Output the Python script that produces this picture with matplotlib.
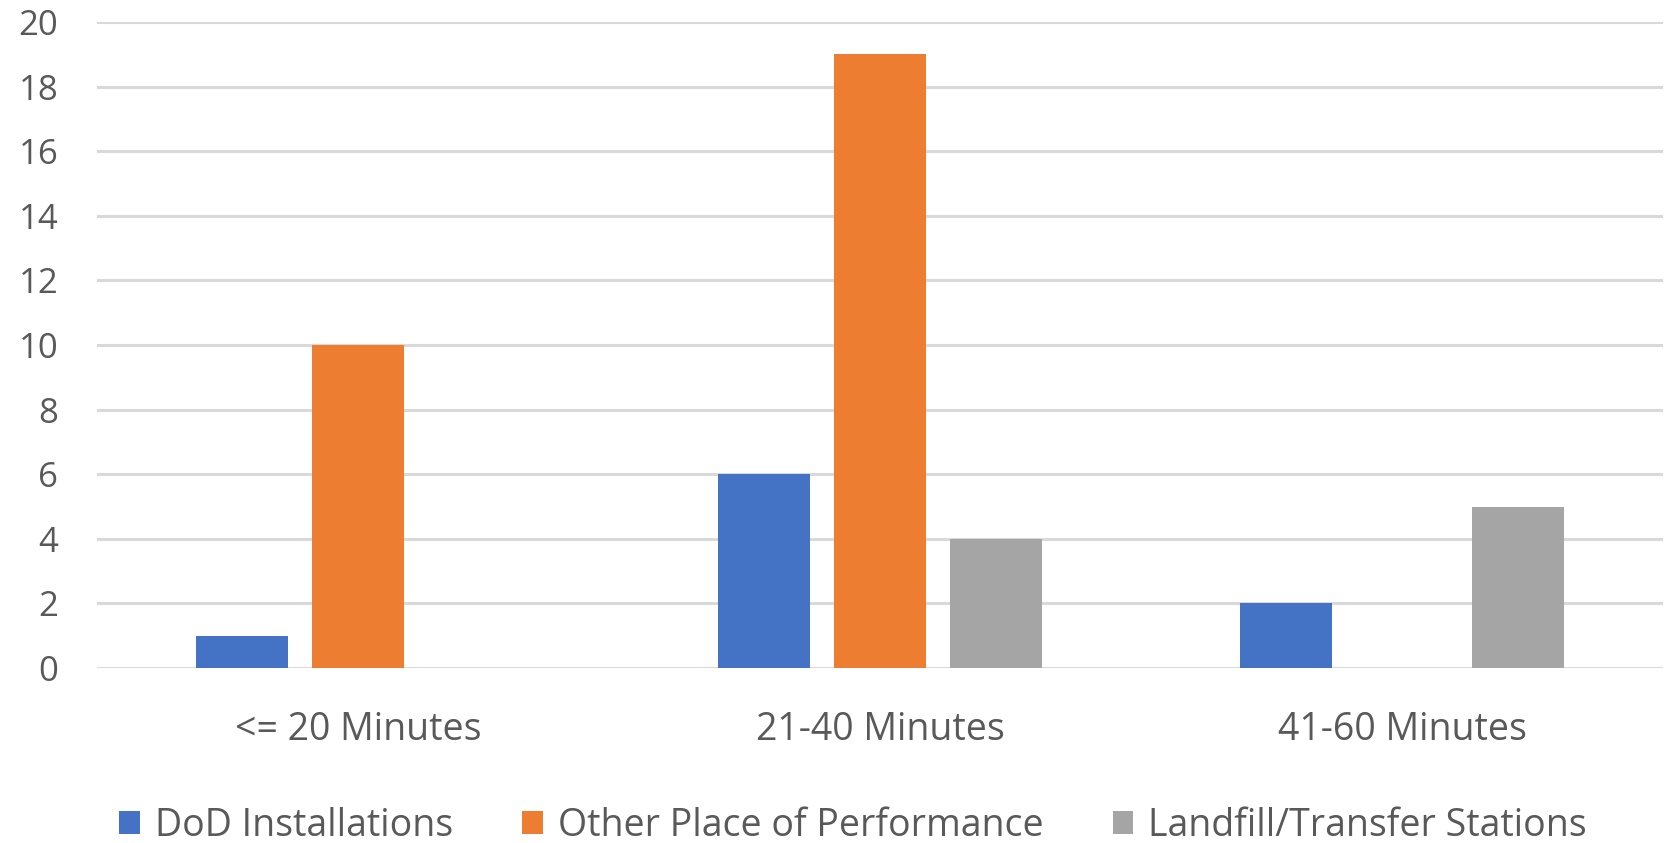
import matplotlib
matplotlib.use("Agg")
import matplotlib.pyplot as plt
import numpy as np

# data
categories = ["<= 20 Minutes", "21-40 Minutes", "41-60 Minutes"]
series_names = ["DoD Installations", "Other Place of Performance", "Landfill/Transfer Stations"]
dod = [1, 6, 2]
other = [10, 19, 0]
landfill = [0, 4, 5]
y_ticks = [0, 2, 4, 6, 8, 10, 12, 14, 16, 18, 20]

colors = ["#4472C4", "#ED7D31", "#A5A5A5"]
text_color = "#595959"
grid_color = "#D9D9D9"

plt.rcParams["font.family"] = ["Open Sans", "DejaVu Sans"]

fig = plt.figure(figsize=(16.69, 8.43), dpi=100)
ax = fig.add_axes([97 / 1669, 1 - 668 / 843, (1663 - 97) / 1669, (668 - 22) / 843])

x = np.arange(len(categories))
width = 0.176
step = 0.222
for k, (vals, name, col) in enumerate(zip([dod, other, landfill], series_names, colors)):
    ax.bar(x + (k - 1) * step, vals, width=width, color=col, label=name, zorder=3)

ax.set_xlim(-0.5, len(categories) - 0.5)
ax.set_ylim(0, 20)
ax.set_yticks(y_ticks)
ax.set_xticks(x)
ax.set_xticklabels(categories)
ax.yaxis.grid(True, color=grid_color, linewidth=2.2, zorder=0)
ax.set_axisbelow(True)
for side in ["top", "right", "left", "bottom"]:
    ax.spines[side].set_visible(False)
ax.tick_params(axis="y", length=0, labelsize=25, labelcolor=text_color, pad=28)
ax.tick_params(axis="x", length=0, labelsize=27, labelcolor=text_color, pad=31)

handles, labels = ax.get_legend_handles_labels()
fig.legend(handles, labels, loc="center", bbox_to_anchor=(853 / 1669, 1 - 826 / 843),
           ncol=3, frameon=False, fontsize=27, labelcolor=text_color,
           handlelength=0.55, handleheight=0.55, handletextpad=0.4, columnspacing=1.85)

fig.savefig("out.png", dpi=100)
